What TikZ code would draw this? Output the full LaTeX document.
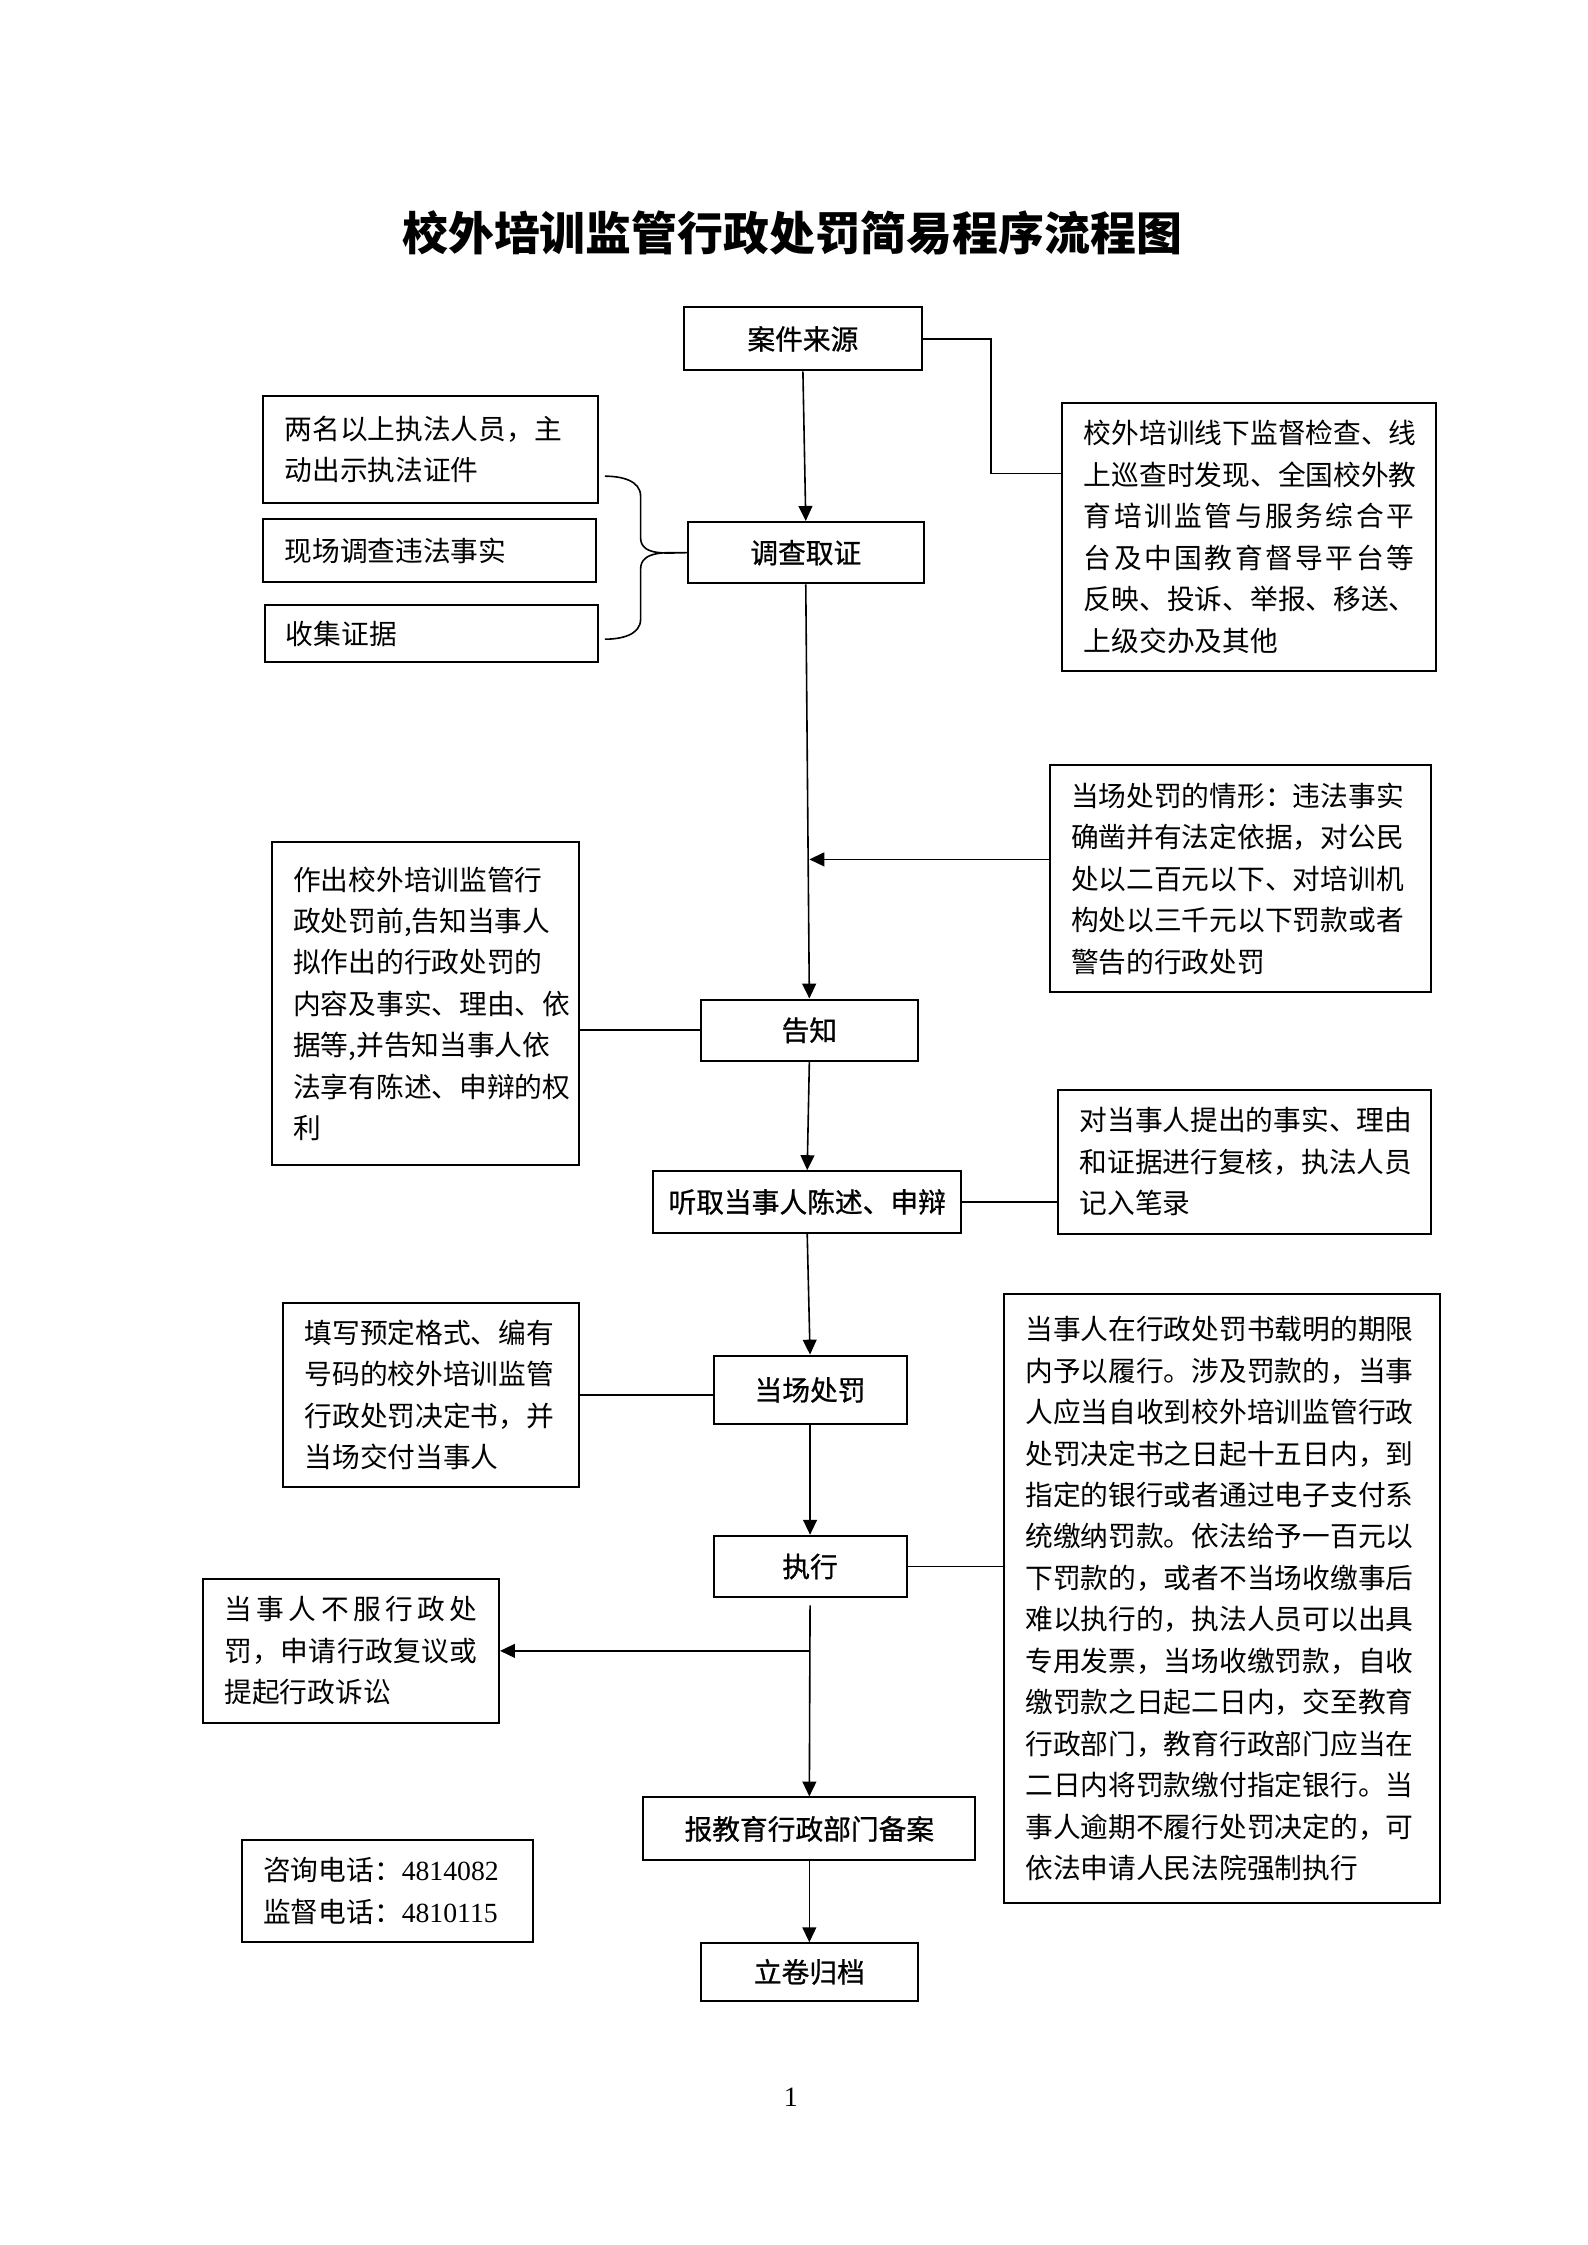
\documentclass[tikz,border=0pt]{standalone}
\usepackage{fontspec}
\setmainfont{Liberation Serif}
\newfontfamily\cjk{Noto Sans CJK SC}
\newfontfamily\cjkm[FakeBold=0.8]{Noto Sans CJK SC}
\usetikzlibrary{arrows.meta,calc}
\def\px{0.5363pt}
\makeatletter
\def\spreadline#1{\makebox[\linewidth][s]{\spr@a#1\relax}}
\def\spr@a#1{#1\spr@b}
\def\spr@b#1{\ifx\relax#1\else\hfill#1\expandafter\spr@b\fi}
\makeatother
\tikzset{
  box/.style={draw,line width=0.75pt,inner xsep=15*\px,inner ysep=0pt,align=left,
    font=\cjk\fontsize{10.4pt}{15.55pt}\selectfont},
  lbl/.style={draw,line width=0.75pt,inner sep=0pt,align=center,
    font=\cjkm\fontsize{10.4pt}{12pt}\selectfont},
  bsz/.style 2 args={minimum width=#1*\px,minimum height=#2*\px,text width=#1*\px-30*\px},
  lsz/.style 2 args={minimum width=#1*\px,minimum height=#2*\px},
  conn/.style={line width=0.6pt},
  arr/.style={conn,-{Triangle[length=5.6pt,width=5.2pt]}}
}
\begin{document}
\begin{tikzpicture}[x=0.5363pt,y=-0.5363pt]
\useasboundingbox (0,0) rectangle (1110,1570);

\node[font=\cjk\bfseries\fontsize{17.2pt}{20pt}\selectfont] (title) at (554,163) {校外培训监管行政处罚简易程序流程图};

\node[lbl,lsz={167}{44}] (ajly) at (561.5,237) {案件来源};
\node[box,bsz={234}{75}] (bA) at (301,314.5) {两名以上执法人员，主\\动出示执法证件};
\node[box,bsz={233}{44}] (bB) at (300.5,385) {现场调查违法事实};
\node[box,bsz={233}{40}] (bC) at (301.5,443) {收集证据};
\node[lbl,lsz={165}{43}] (dcqz) at (563.5,386.5) {调查取证};
\node[box,bsz={261}{187}] (b6) at (873.5,375.5) {校外培训线下监督检查、线\\上巡查时发现、全国校外教\\\spreadline{育培训监管与服务综合平}\\\spreadline{台及中国教育督导平台等}\\反映、投诉、举报、移送、\\上级交办及其他};
\node[box,bsz={267}{159}] (b7) at (867.5,614.5) {当场处罚的情形：违法事实\\确凿并有法定依据，对公民\\处以二百元以下、对培训机\\构处以三千元以下罚款或者\\警告的行政处罚};
\node[box,bsz={215}{226}] (b8) at (297.5,702) {作出校外培训监管行\\政处罚前,告知当事人\\拟作出的行政处罚的\\内容及事实、理由、依\\据等,并告知当事人依\\法享有陈述、申辩的权\\利};
\node[lbl,lsz={152}{43}] (gz) at (566,720.5) {告知};
\node[box,bsz={261}{101}] (b10) at (870.5,812.5) {对当事人提出的事实、理由\\和证据进行复核，执法人员\\记入笔录};
\node[lbl,lsz={215}{43}] (tqtz) at (564.5,840.5) {听取当事人陈述、申辩};
\node[box,bsz={207}{129}] (b12) at (301.5,975.5) {填写预定格式、编有\\号码的校外培训监管\\行政处罚决定书，并\\当场交付当事人};
\node[lbl,lsz={135}{48}] (dccf) at (566.5,972) {当场处罚};
\node[box,bsz={305}{426}] (b14) at (854.5,1118) {当事人在行政处罚书载明的期限\\内予以履行。涉及罚款的，当事\\人应当自收到校外培训监管行政\\处罚决定书之日起十五日内，到\\指定的银行或者通过电子支付系\\统缴纳罚款。依法给予一百元以\\下罚款的，或者不当场收缴事后\\难以执行的，执法人员可以出具\\专用发票，当场收缴罚款，自收\\缴罚款之日起二日内，交至教育\\行政部门，教育行政部门应当在\\二日内将罚款缴付指定银行。当\\事人逾期不履行处罚决定的，可\\依法申请人民法院强制执行};
\node[lbl,lsz={135}{43}] (zx) at (566.5,1095.5) {执行};
\node[box,bsz={207}{101}] (b16) at (245.5,1154.5) {\spreadline{当事人不服行政处}\\\spreadline{罚，申请行政复议或}\\提起行政诉讼};
\node[lbl,lsz={232}{44}] (bj) at (566,1279) {报教育行政部门备案};
\node[box,bsz={204}{71}] (b18) at (271,1322.5) {咨询电话：{\rmfamily 4814082}\\监督电话：{\rmfamily 4810115}};
\node[lbl,lsz={152}{40}] (ljgd) at (566,1379) {立卷归档};
\node[font=\rmfamily\fontsize{10.5pt}{12pt}\selectfont] (pg) at (553,1467) {1};

% connectors
\draw[arr] (ajly.south) -- (dcqz.north);
\coordinate (j1) at (693,331);
\draw[conn] (ajly.east) -| (j1) -- (j1 -| b6.west);
\coordinate (brT) at (423,333);
\coordinate (brB) at (423,447);
\draw[conn] (brT) to[out=0,in=90] (448,347) -- (448,376) to[out=-90,in=180] (dcqz.west)
  to[out=180,in=90] (448,398) -- (448,433) to[out=-90,in=0] (brB);
\draw[arr] (dcqz.south) -- (gz.north);
\draw[arr] ([yshift=13.5*\px]b7.west) -- ([yshift=13.5*\px]b7.west -| gz.north);
\draw[conn] (gz.west -| b8.east) -- (gz.west);
\draw[arr] (gz.south) -- (tqtz.north);
\draw[conn] (tqtz.east) -- (tqtz.east -| b10.west);
\draw[arr] (tqtz.south) -- (dccf.north);
\draw[conn] (b12.east) -- (b12.east -| dccf.west);
\draw[arr] (dccf.south) -- (zx.north);
\draw[conn] (zx.east) -- (zx.east -| b14.west);
\draw[arr] ([yshift=-5*\px]zx.south) -- (bj.north);
\draw[arr] (b16.east -| zx.south) -- (b16.east);
\draw[arr] (bj.south) -- (ljgd.north);
\end{tikzpicture}
\end{document}
